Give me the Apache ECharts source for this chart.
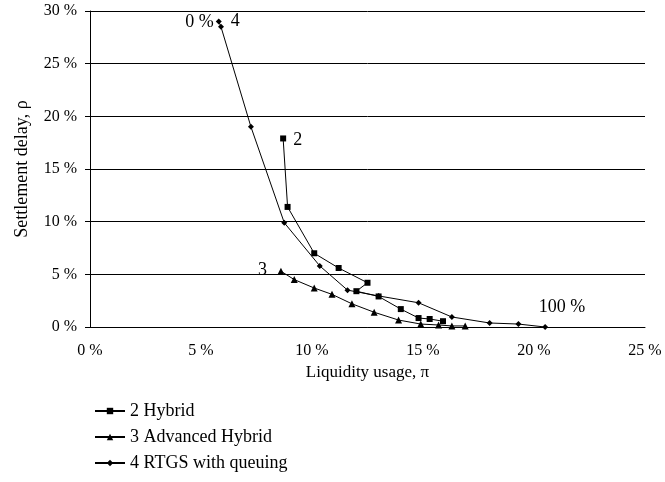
<!DOCTYPE html>
<html>
<head>
<meta charset="utf-8">
<script src="https://cdn.jsdelivr.net/npm/echarts@6/dist/echarts.min.js"></script>
<style>
  html, body { margin: 0; padding: 0; background: #fff; }
  #chart { width: 665px; height: 482px; }
</style>
</head>
<body>
<div id="chart"></div>
<script>
// 流动性使用 (x, %) 与结算延迟 (y, %)
const hybridX = [8.7, 8.9, 10.1, 11.2, 12.5, 12.0, 13.0, 14.0, 14.8, 15.3, 15.9];
const hybridY = [17.9, 11.4, 7.0, 5.6, 4.2, 3.4, 2.9, 1.7, 0.85, 0.76, 0.55];

const advX = [8.6, 9.2, 10.1, 10.9, 11.8, 12.8, 13.9, 14.9, 15.7, 16.3, 16.9];
const advY = [5.3, 4.5, 3.7, 3.1, 2.2, 1.4, 0.66, 0.28, 0.19, 0.1, 0.1];

const rtgsX = [5.8, 5.9, 7.25, 8.75, 10.35, 11.6, 13.0, 14.8, 16.3, 18.0, 19.3, 20.5];
const rtgsY = [29.0, 28.5, 19.0, 9.9, 5.8, 3.5, 2.95, 2.3, 0.95, 0.38, 0.28, 0.0];

const seriesNames = ['2 Hybrid', '3 Advanced Hybrid', '4 RTGS with queuing'];
const xTicks = [0, 5, 10, 15, 20, 25];
const yTicks = [0, 5, 10, 15, 20, 25, 30];

const FONT = '"Liberation Serif", "DejaVu Serif", serif';

function pairs(xs, ys) {
    return xs.map((x, i) => [x, ys[i]]);
}

// 曲线上的文字标注
function note(text, coord, position, offset) {
    return {
        coord: coord,
        symbol: 'circle',
        symbolSize: 0,
        label: {
            show: true,
            formatter: text,
            position: position,
            offset: offset || [0, 0],
            color: '#000',
            fontSize: 18,
            fontFamily: FONT
        }
    };
}

const chart = echarts.init(document.getElementById('chart'));

const baseSeries = {
    type: 'line',
    showSymbol: true,
    animation: false,
    lineStyle: { color: '#000', width: 1 },
    itemStyle: { color: '#000' },
    emphasis: { disabled: true }
};

const option = {
    backgroundColor: '#fff',
    animation: false,
    textStyle: { fontFamily: FONT, color: '#000' },
    grid: { left: 90, right: 20, top: 11, bottom: 155 },
    xAxis: {
        type: 'value',
        min: xTicks[0],
        max: xTicks[xTicks.length - 1],
        interval: 5,
        name: 'Liquidity usage, \u03c0',
        nameLocation: 'middle',
        nameGap: 32,
        nameTextStyle: { fontSize: 17, color: '#000', fontFamily: FONT },
        axisLine: { show: true, lineStyle: { color: '#000', width: 1 } },
        axisTick: { show: false },
        splitLine: { show: false },
        axisLabel: {
            color: '#000',
            fontSize: 16,
            fontFamily: FONT,
            margin: 16,
            formatter: '{value} %'
        }
    },
    yAxis: {
        type: 'value',
        min: yTicks[0],
        max: yTicks[yTicks.length - 1],
        interval: 5,
        name: 'Settlement delay, \u03c1',
        nameLocation: 'middle',
        nameGap: 59,
        nameTextStyle: { fontSize: 18, color: '#000', fontFamily: FONT },
        axisLine: { show: true, lineStyle: { color: '#000', width: 1 } },
        axisTick: { show: true, length: 5, lineStyle: { color: '#000' } },
        splitLine: { show: true, lineStyle: { color: '#000', width: 1 } },
        axisLabel: {
            color: '#000',
            fontSize: 16,
            fontFamily: FONT,
            margin: 13,
            formatter: '{value} %'
        }
    },
    legend: {
        orient: 'vertical',
        left: 89,
        top: 397,
        itemWidth: 30,
        itemHeight: 8,
        itemGap: 8,
        textStyle: { fontSize: 18, color: '#000', fontFamily: FONT },
        data: seriesNames
    },
    series: [
        Object.assign({}, baseSeries, {
            name: seriesNames[0],
            symbol: 'rect',
            symbolSize: 6,
            data: pairs(hybridX, hybridY),
            markPoint: {
                silent: true,
                data: [note('2', [hybridX[0], hybridY[0]], 'right', [5, 2])]
            }
        }),
        Object.assign({}, baseSeries, {
            name: seriesNames[1],
            symbol: 'triangle',
            symbolSize: 7,
            data: pairs(advX, advY),
            markPoint: {
                silent: true,
                data: [note('3', [advX[0], advY[0]], 'left', [-9, -1])]
            }
        }),
        Object.assign({}, baseSeries, {
            name: seriesNames[2],
            symbol: 'diamond',
            symbolSize: 6,
            data: pairs(rtgsX, rtgsY),
            markPoint: {
                silent: true,
                data: [
                    note('0 %', [rtgsX[0], rtgsY[0]], 'left', [0, 1]),
                    note('4', [rtgsX[0], rtgsY[0]], 'right', [7, 0]),
                    note('100 %', [rtgsX[rtgsX.length - 1], rtgsY[rtgsY.length - 1]], 'top', [17, -6])
                ]
            }
        })
    ]
};

chart.setOption(option);
</script>
</body>
</html>
